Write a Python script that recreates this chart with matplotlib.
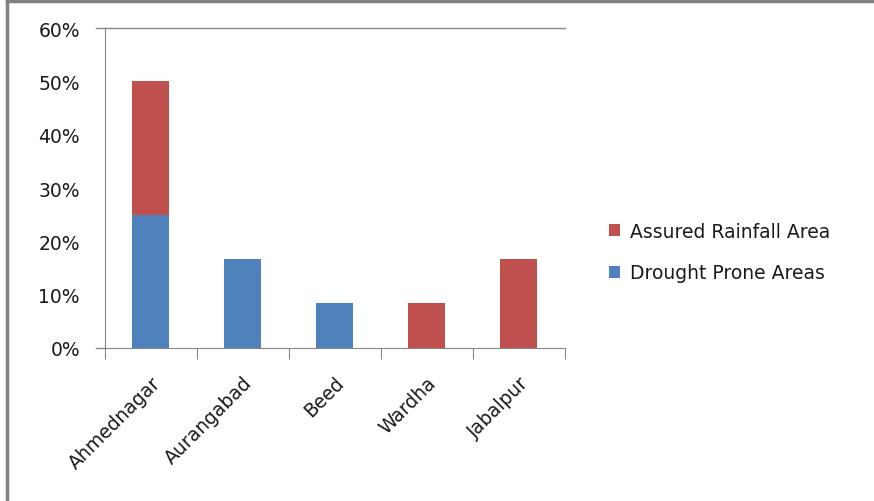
import matplotlib.pyplot as plt
import numpy as np
from matplotlib.lines import Line2D
from matplotlib.ticker import PercentFormatter

# district shares
districts = ['Ahmednagar', 'Aurangabad', 'Beed', 'Wardha', 'Jabalpur']
drought_prone = [25.0, 16.67, 8.33, 0.0, 0.0]
assured_rainfall = [25.0, 0.0, 0.0, 8.33, 16.67]
y_ticks = [0, 10, 20, 30, 40, 50, 60]

blue = '#4F81BD'
red = '#C0504D'
axis_grey = '#868686'
text_col = '#1a1a1a'

plt.rcParams['font.family'] = ['DejaVu Sans']

fig = plt.figure(figsize=(8.74, 5.02), dpi=100)
ax = fig.add_axes([0.120, 0.305, 0.526, 0.637])

x = np.arange(len(districts))
b1 = ax.bar(x, drought_prone, width=0.4, color=blue, label='Drought Prone Areas', zorder=3)
b2 = ax.bar(x, assured_rainfall, width=0.4, bottom=drought_prone, color=red,
            label='Assured Rainfall Area', zorder=3)

ax.set_xlim(-0.5, len(districts) - 0.5)
ax.set_ylim(0, 60)
ax.set_yticks(y_ticks)
ax.yaxis.set_major_formatter(PercentFormatter(decimals=0))
ax.tick_params(axis='y', length=0, pad=18, labelsize=13.5, labelcolor=text_col)

# x ticks sit at category boundaries, labels at category centres
ax.set_xticks(np.arange(len(districts) + 1) - 0.5)
ax.set_xticklabels([])
ax.tick_params(axis='x', which='major', length=8, color=axis_grey, direction='out')
ax.set_xticks(x, minor=True)
ax.set_xticklabels(districts, minor=True, rotation=45, ha='right', va='top',
                   rotation_mode='anchor', fontsize=13.5, color=text_col)
ax.tick_params(axis='x', which='minor', length=0, pad=18)

for s in ['top', 'right']:
    ax.spines[s].set_visible(False)
for s in ['left', 'bottom']:
    ax.spines[s].set_color(axis_grey)

# top gridline and small outward ticks at 0 / 60
ax.axhline(60, xmin=-0.02, xmax=1, color=axis_grey, lw=1, clip_on=False)
ax.axhline(0, xmin=-0.02, xmax=0, color=axis_grey, lw=1, clip_on=False)

ax.legend(handles=[b2, b1], loc='center left', bbox_to_anchor=(1.06, 0.30),
          frameon=False, fontsize=13.5, handlelength=0.6, handleheight=0.6,
          handletextpad=0.5, labelspacing=1.2, labelcolor=text_col)

# partial outer frame of the screenshot
fig.add_artist(Line2D([0.008, 0.008], [0, 0.997], transform=fig.transFigure,
                      color='#808080', lw=2.5))
fig.add_artist(Line2D([0.008, 1], [0.997, 0.997], transform=fig.transFigure,
                      color='#808080', lw=2.5))

fig.savefig('out.png', dpi=100)
